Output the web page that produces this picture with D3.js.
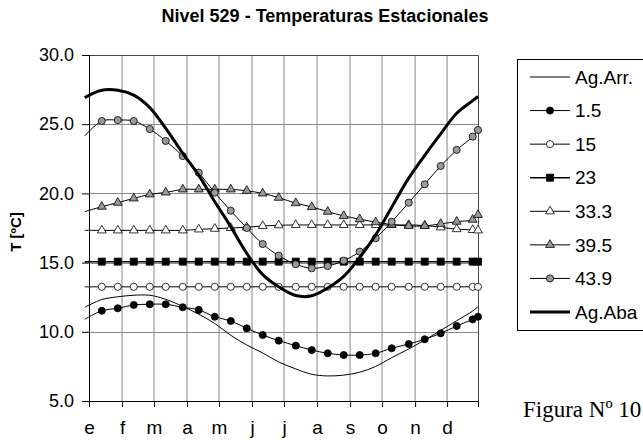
<!DOCTYPE html>
<html>
<head>
<meta charset="utf-8">
<script src="https://cdn.jsdelivr.net/npm/d3@7"></script>
<style>
  html, body { margin: 0; padding: 0; background: #fff; }
  svg { display: block; }
</style>
</head>
<body>
<svg id="chart" width="643" height="440"></svg>
<script>
// Day of year for each sample (first sample has no marker, only the line start)
const days = [-4, 12, 27, 42, 57, 72, 88, 103, 118, 133, 148, 163, 178, 194, 209, 224, 239, 254, 269, 284, 300, 315, 330, 345, 360, 365];

// Month labels and the day each one sits on
const monthLabels = ["e", "f", "m", "a", "m", "j", "j", "a", "s", "o", "n", "d"];
const monthDays = [0, 31, 61, 92, 122, 153, 183, 214, 245, 275, 306, 336];

// Temperature axis ticks
const tempTicks = [5, 10, 15, 20, 25, 30];

// Seasonal temperatures [ºC]
const agArr = [11.77, 12.33, 12.53, 12.64, 12.64, 12.35, 11.83, 11.27, 10.6, 9.75, 9.05, 8.47, 7.82, 7.32, 6.93, 6.81, 6.87, 7.08, 7.5, 8.13, 8.76, 9.4, 10.1, 10.8, 11.5, 11.81];
const d1_5 = [10.9, 11.52, 11.7, 11.94, 11.99, 11.99, 11.77, 11.58, 11.09, 10.78, 10.25, 9.77, 9.36, 9.0, 8.68, 8.45, 8.32, 8.32, 8.45, 8.81, 9.12, 9.46, 9.89, 10.42, 10.9, 11.09];
const d15 = [13.25, 13.25, 13.25, 13.25, 13.25, 13.25, 13.25, 13.25, 13.25, 13.25, 13.25, 13.25, 13.25, 13.25, 13.25, 13.25, 13.25, 13.25, 13.25, 13.25, 13.25, 13.25, 13.25, 13.25, 13.25, 13.25];
const d23 = [15.07, 15.07, 15.07, 15.07, 15.07, 15.07, 15.07, 15.07, 15.07, 15.07, 15.07, 15.07, 15.07, 15.07, 15.07, 15.07, 15.07, 15.07, 15.07, 15.07, 15.07, 15.07, 15.07, 15.07, 15.07, 15.07];
const d33_3 = [17.33, 17.33, 17.33, 17.33, 17.33, 17.33, 17.33, 17.4, 17.45, 17.5, 17.55, 17.65, 17.7, 17.72, 17.72, 17.72, 17.72, 17.72, 17.72, 17.72, 17.72, 17.68, 17.55, 17.42, 17.36, 17.33];
const d39_5 = [18.68, 19.04, 19.33, 19.64, 19.93, 20.07, 20.29, 20.29, 20.29, 20.29, 20.19, 20.0, 19.69, 19.3, 19.02, 18.68, 18.37, 18.14, 17.92, 17.75, 17.65, 17.65, 17.8, 17.96, 18.1, 18.45];
const d43_9 = [24.15, 25.23, 25.3, 25.23, 24.65, 23.79, 22.7, 21.5, 20.05, 18.75, 17.5, 16.34, 15.5, 14.88, 14.59, 14.75, 15.14, 15.79, 16.76, 17.95, 19.33, 20.66, 21.98, 23.14, 24.1, 24.58];
const agAba = [26.92, 27.45, 27.45, 27.1, 26.2, 24.7, 22.9, 21.3, 19.4, 17.6, 15.67, 14.13, 13.25, 12.62, 12.6, 13.17, 14.01, 15.37, 17.0, 19.0, 21.1, 22.75, 24.3, 25.79, 26.7, 27.0];

const seriesNames = ["Ag.Arr.", "1.5", "15", "23", "33.3", "39.5", "43.9", "Ag.Aba"];
const seriesValues = [agArr, d1_5, d15, d23, d33_3, d39_5, d43_9, agAba];

// Drawing style per series
const styles = [
  { width: 1,   marker: null },
  { width: 1,   marker: "circle",   fill: "#000" },
  { width: 1,   marker: "circle",   fill: "#fff" },
  { width: 1.5, marker: "square",   fill: "#000" },
  { width: 1,   marker: "triangle", fill: "#fff" },
  { width: 1,   marker: "triangle", fill: "#999" },
  { width: 1,   marker: "circle",   fill: "#999" },
  { width: 3,   marker: null }
];
const symbolTypes = { circle: d3.symbolCircle, square: d3.symbolSquare, triangle: d3.symbolTriangle };
const symbolSizes = { circle: 40, square: 50, triangle: 34 };

const svg = d3.select("#chart");
const plotL = 89, plotR = 478, plotT = 55, plotB = 401;

const x = d3.scaleLinear().domain([0, 365]).range([plotL, plotR]);
const y = d3.scaleLinear().domain([5, 30]).range([plotB, plotT]);

// Title
svg.append("text")
  .attr("x", 325).attr("y", 22)
  .attr("text-anchor", "middle")
  .attr("font-family", "Liberation Sans, Arial, sans-serif")
  .attr("font-weight", "bold").attr("font-size", 18)
  .text("Nivel 529 - Temperaturas Estacionales");

// Gridlines
svg.append("g").selectAll("line").data(monthDays.slice(1)).join("line")
  .attr("x1", d => x(d)).attr("x2", d => x(d))
  .attr("y1", plotT).attr("y2", plotB)
  .attr("stroke", "#b4b4b4").attr("stroke-width", 1.6);
svg.append("g").selectAll("line").data(tempTicks.slice(1, -1)).join("line")
  .attr("x1", plotL).attr("x2", plotR)
  .attr("y1", d => Math.round(y(d)) + 0.5).attr("y2", d => Math.round(y(d)) + 0.5)
  .attr("stroke", "#8a8a8a").attr("stroke-width", 1);

// Plot frame (top and right)
svg.append("path")
  .attr("d", `M${plotL},${plotT + 0.5}H${plotR + 0.5}V${plotB}`)
  .attr("fill", "none").attr("stroke", "#444").attr("stroke-width", 1);

// Y axis
const yAxis = d3.axisLeft(y).tickValues(tempTicks).tickFormat(d3.format(".1f")).tickSize(7).tickPadding(8);
const gy = svg.append("g").attr("transform", `translate(${plotL},0)`).call(yAxis);
gy.select(".domain").attr("stroke", "#000");
gy.selectAll(".tick line").attr("stroke", "#000");
gy.selectAll("text").attr("font-family", "Liberation Sans, Arial, sans-serif").attr("font-size", 18).attr("fill", "#000");

// X axis
const xAxis = d3.axisBottom(x).tickValues(monthDays.concat([365])).tickSize(6).tickPadding(14)
  .tickFormat((d, i) => i < monthLabels.length ? monthLabels[i] : "");
const gx = svg.append("g").attr("transform", `translate(0,${plotB})`).call(xAxis);
gx.select(".domain").attr("stroke", "#000");
gx.selectAll(".tick line").attr("stroke", "#000");
gx.selectAll("text").attr("font-family", "Liberation Sans, Arial, sans-serif").attr("font-size", 19).attr("fill", "#000");

// Y axis title
svg.append("text")
  .attr("transform", "translate(21,232) rotate(-90)")
  .attr("text-anchor", "middle")
  .attr("font-family", "Liberation Sans, Arial, sans-serif")
  .attr("font-weight", "bold").attr("font-size", 15)
  .text("T [ºC]");

// Series
const line = d3.line().x(d => x(d[0])).y(d => y(d[1])).curve(d3.curveCatmullRom.alpha(0.5));
seriesValues.forEach((vals, si) => {
  const st = styles[si];
  const pts = days.map((d, i) => [d, vals[i]]);
  const g = svg.append("g");
  g.append("path").attr("d", line(pts))
    .attr("fill", "none").attr("stroke", "#000").attr("stroke-width", st.width)
    .attr("stroke-linejoin", "round");
  if (st.marker) {
    g.selectAll("path.m").data(pts.slice(1)).join("path").attr("class", "m")
      .attr("transform", d => `translate(${x(d[0])},${y(d[1])})`)
      .attr("d", d3.symbol().type(symbolTypes[st.marker]).size(symbolSizes[st.marker]))
      .attr("fill", st.fill).attr("stroke", "#000").attr("stroke-width", 0.8);
  }
});

// Legend
const lgX = 517, lgTop = 59, lgBottom = 330;
svg.append("rect").attr("x", lgX + 0.5).attr("y", lgTop + 0.5)
  .attr("width", 200).attr("height", lgBottom - lgTop)
  .attr("fill", "#fff").attr("stroke", "#000").attr("stroke-width", 1);
const rowY = d3.scalePoint().domain(seriesNames).range([77, 312]);
seriesNames.forEach((name, si) => {
  const st = styles[si];
  const cy = rowY(name);
  svg.append("line").attr("x1", 530).attr("x2", 570).attr("y1", cy).attr("y2", cy)
    .attr("stroke", "#000").attr("stroke-width", st.width);
  if (st.marker) {
    svg.append("path").attr("transform", `translate(550,${cy})`)
      .attr("d", d3.symbol().type(symbolTypes[st.marker]).size(symbolSizes[st.marker]))
      .attr("fill", st.fill).attr("stroke", "#000").attr("stroke-width", 0.8);
  }
  svg.append("text").attr("x", 575).attr("y", cy).attr("dy", "0.35em")
    .attr("font-family", "Liberation Sans, Arial, sans-serif").attr("font-size", 19)
    .text(name);
});

// Figure caption
svg.append("text").attr("x", 523).attr("y", 417)
  .attr("font-family", "Liberation Serif, Times New Roman, serif").attr("font-size", 23)
  .text("Figura Nº 10");
</script>
</body>
</html>
